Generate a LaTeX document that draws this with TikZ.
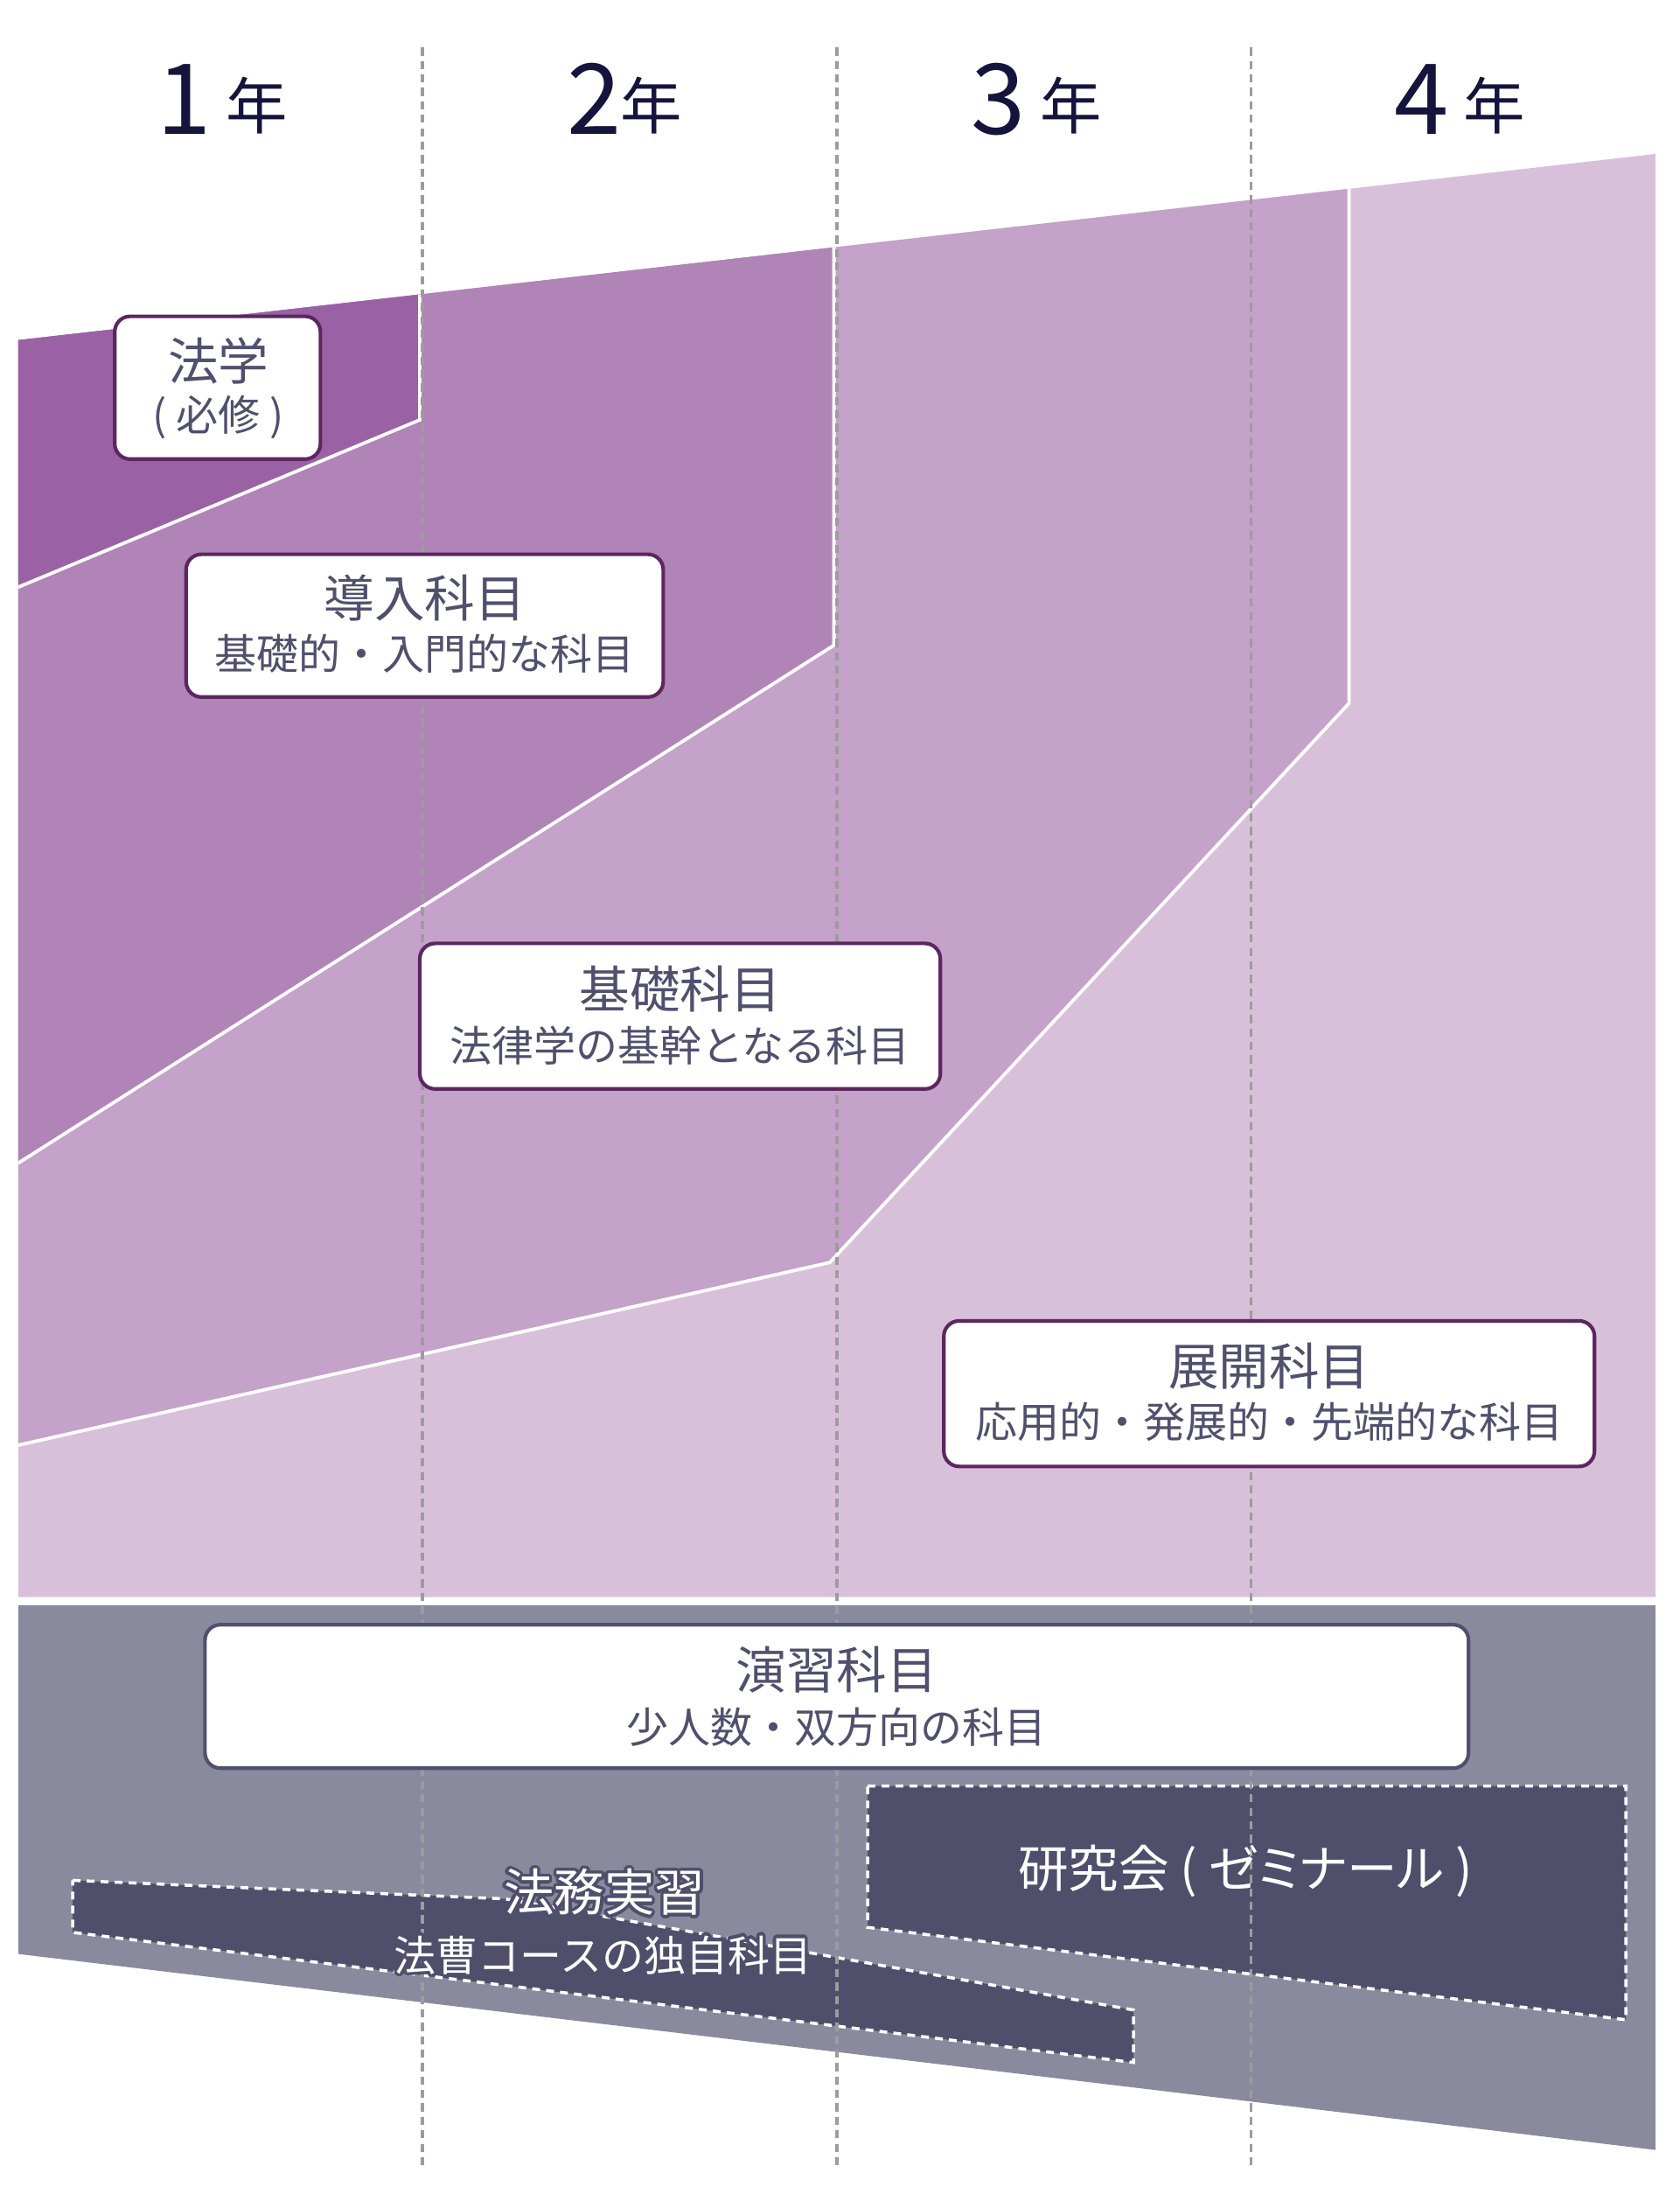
\documentclass[tikz,border=0pt]{standalone}
\usepackage{fontspec}
\setmainfont{Noto Sans CJK JP}
\newfontfamily\paltfont[RawFeature=+palt]{Noto Sans CJK JP}
\usepackage{contour}
\contourlength{1.1pt}
\contournumber{24}
\definecolor{rone}{HTML}{9A62A4}
\definecolor{rtwo}{HTML}{B084B7}
\definecolor{rthree}{HTML}{C4A2C9}
\definecolor{rfour}{HTML}{D8C0DB}
\definecolor{bandc}{HTML}{8A8A9F}
\definecolor{darkc}{HTML}{4F4F6C}
\definecolor{boxline}{HTML}{5C2760}
\definecolor{txtc}{HTML}{50506E}
\definecolor{yearc}{HTML}{14143C}
\definecolor{gridc}{HTML}{9C9C9C}
\tikzset{
  sepline/.style={draw=white, line width=1.2pt, line join=miter},
  vdash/.style={draw=gridc, line width=1.2pt, dash pattern=on 2.9pt off 1.9pt},
  dbox/.style={fill=darkc, draw=white, line width=1.1pt, dash pattern=on 2.8pt off 2.2pt},
  wbox/.style={draw=boxline, line width=1.3pt, fill=white, rounded corners=5.5pt, inner sep=0pt},
  gbox/.style={wbox, draw=txtc},
  ttl/.style={text=txtc, font=\fontsize{18}{18}\selectfont, inner sep=0pt},
  subt/.style={text=txtc, font=\fontsize{15}{15}\selectfont, inner sep=0pt},
  digit/.style={text=yearc, font=\fontsize{35}{35}\selectfont, inner sep=0pt, anchor=base},
  nen/.style={text=yearc, font=\fontsize{22}{22}\selectfont, inner sep=0pt, anchor=base},
}
\begin{document}
\begin{tikzpicture}[x=0.5pt,y=-0.5pt]
\useasboundingbox (0,0) rectangle (1200,1567.5);
% purple regions
\fill[rfour] (13,243) -- (1183,110) -- (1183,1141) -- (13,1141) -- cycle;
\fill[rthree] (13,243) -- (964,134.9) -- (964,502.5) -- (593,902) -- (13,1032.5) -- cycle;
\fill[rtwo] (13,243) -- (596,176.7) -- (596,461) -- (13,831) -- cycle;
\fill[rone] (13,243) -- (300,210.4) -- (300,300) -- (13,419.5) -- cycle;
\draw[sepline] (964,134.9) -- (964,502.5) -- (593,902) -- (13,1032.5);
\draw[sepline] (596,176.7) -- (596,461) -- (13,831);
\draw[sepline] (300,210.4) -- (300,300) -- (13,419.5);
% grey band
\fill[bandc] (13,1147) -- (1183,1147) -- (1183,1536) -- (13,1396) -- cycle;
\path[dbox] (620,1276) -- (1162,1276) -- (1162,1443) -- (620,1377) -- cycle;
\path[dbox] (52,1343.4) -- (360.7,1356.6) -- (810,1436) -- (810,1473.5) -- (52,1380.6) -- cycle;
% year grid lines
\foreach \gx in {302,598,894} \draw[vdash] (\gx,34) -- (\gx,1550);
% year labels
\node[digit] (d1) at (131.5,96) {1};
\node[nen] (n1) at (183.7,92.5) {年};
\node[digit] (d2) at (424.8,96) {2};
\node[nen] (n2) at (465.5,92.5) {年};
\node[digit] (d3) at (713.7,96) {3};
\node[nen] (n3) at (765.5,92.5) {年};
\node[digit] (d4) at (1016.2,96) {4};
\node[nen] (n4) at (1068,92.5) {年};
% white boxes
\node[wbox, minimum width=73.5pt, minimum height=51pt] (b1) at (155.5,277) {};
\node[ttl] (b1t) at (156,258) {法学};
\node[subt] (b1s) at (156,298) {( 必修 )};
\node[wbox, minimum width=170.5pt, minimum height=51pt] (b2) at (303.5,447) {};
\node[ttl] (b2t) at (303.5,427) {導入科目};
\node[subt] (b2s) at (303.5,467) {基礎的・入門的な科目};
\node[wbox, minimum width=186pt, minimum height=52pt] (b3) at (486,726) {};
\node[ttl] (b3t) at (486,706.4) {基礎科目};
\node[subt] (b3s) at (486,746.7) {法律学の基幹となる科目};
\node[wbox, minimum width=232.5pt, minimum height=52pt] (b4) at (907,995.7) {};
\node[ttl] (b4t) at (907,976) {展開科目};
\node[subt] (b4s) at (907,1016) {応用的・発展的・先端的な科目};
\node[gbox, minimum width=451.5pt, minimum height=51.25pt] (b5) at (598,1212) {};
\node[ttl] (b5t) at (598,1193) {演習科目};
\node[subt] (b5s) at (598,1234) {少人数・双方向の科目};
% dark box labels
\node[ttl, text=white, font=\fontsize{18}{18}\paltfont] (b6t) at (890,1337) {研究会 ( ゼミナール )};
\node[ttl, text=white] (b7t) at (432,1353) {\contour{darkc}{法務実習}};
\node[subt, text=white] (b7s) at (431,1398) {\contour{darkc}{法曹コースの独自科目}};
\end{tikzpicture}
\end{document}
